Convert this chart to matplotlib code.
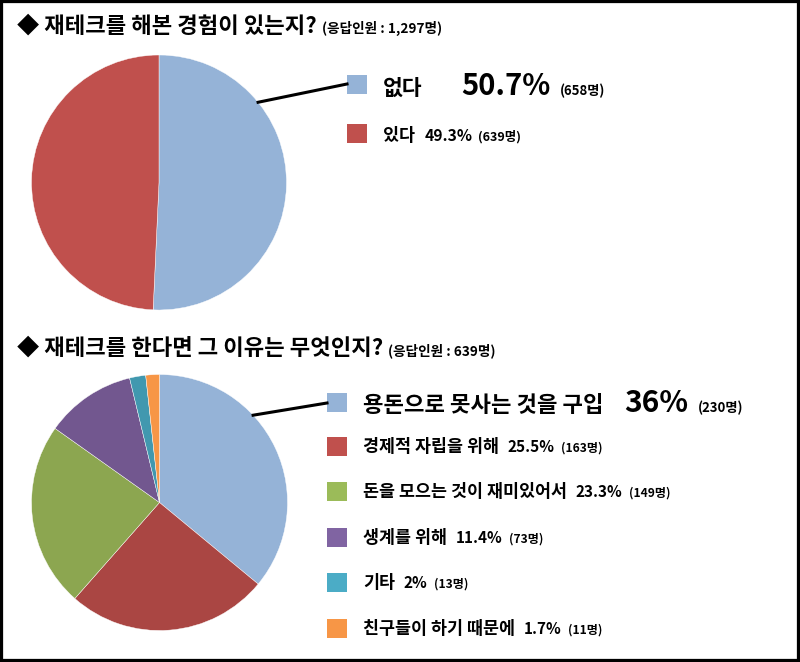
import matplotlib
matplotlib.use("Agg")
import matplotlib.pyplot as plt
from matplotlib.lines import Line2D
from matplotlib.patches import Rectangle
import numpy as np

plt.rcParams['font.family'] = ['Noto Sans CJK KR', 'DejaVu Sans']

# ---- data ----
q1_title = "◆ 재테크를 해본 경험이 있는지?"
q1_total = "(응답인원 : 1,297명)"
q1_labels = ["없다", "있다"]
q1_pct = [50.7, 49.3]
q1_counts = [658, 639]

q2_title = "◆ 재테크를 한다면 그 이유는 무엇인지?"
q2_total = "(응답인원 : 639명)"
q2_labels = ["용돈으로 못사는 것을 구입", "경제적 자립을 위해", "돈을 모으는 것이 재미있어서",
             "생계를 위해", "기타", "친구들이 하기 때문에"]
q2_pct = [36, 25.5, 23.3, 11.4, 2, 1.7]
q2_counts = [230, 163, 149, 73, 13, 11]

pie1_colors = ["#95B3D7", "#C0504D"]
pie2_colors = ["#95B3D7", "#AA4643", "#8CA650", "#72578F", "#4198AF", "#F79646"]
leg1_colors = ["#95B3D7", "#C0504D"]
leg2_colors = ["#95B3D7", "#C0504D", "#9BBB59", "#8064A2", "#4BACC6", "#F79646"]

W, H = 800, 662
fig = plt.figure(figsize=(W / 100, H / 100), dpi=100)
fig.patch.set_facecolor("white")
renderer = fig.canvas.get_renderer()


def fx(x):
    return x / W


def fy(y):
    return 1 - y / H


def text_at(x, y, s, size, weight="bold", **kw):
    t = fig.text(fx(x), fy(y), s, fontsize=size, fontweight=weight,
                 va="baseline", ha="left", color="black", **kw)
    return t


def right_edge(t):
    return t.get_window_extent(renderer).x1


def pie_axes(cx, cy, r, values, colors):
    ax = fig.add_axes([fx(cx - r), fy(cy + r), 2 * r / W, 2 * r / H])
    ax.pie(values, colors=colors, startangle=90, counterclock=False,
           wedgeprops=dict(edgecolor="white", linewidth=0.3))
    ax.set_xlim(-1, 1)
    ax.set_ylim(-1, 1)
    ax.set_aspect("equal")
    ax.axis("off")
    return ax


def connector(cx, cy, r, ang_deg, x2, y2):
    a = np.deg2rad(ang_deg)
    x1 = cx + r * np.cos(a)
    y1 = cy - r * np.sin(a)
    fig.add_artist(Line2D([fx(x1), fx(x2)], [fy(y1), fy(y2)],
                          transform=fig.transFigure, color="black", lw=2.2))


def square(x, y, color, w=20, h=19):
    fig.add_artist(Rectangle((fx(x), fy(y + h)), w / W, h / H,
                             transform=fig.transFigure, facecolor=color,
                             edgecolor="none"))


# ---- titles ----
t = text_at(17, 33, q1_title, 16)
text_at(right_edge(t) + 5, 33, q1_total, 9.8)
t = text_at(17, 355, q2_title, 16)
text_at(right_edge(t) + 5, 355, q2_total, 9.8)

# ---- pie 1 ----
pie_axes(159, 182.5, 127.5, q1_counts, pie1_colors)
connector(159, 182.5, 127.5, 39, 347, 84)

# legend 1
sq_y1 = [75, 124]
base1 = [95, 141]
for i, (lab, p, c) in enumerate(zip(q1_labels, q1_pct, q1_counts)):
    square(347, sq_y1[i], leg1_colors[i])
    if i == 0:
        t = text_at(383, base1[i], lab, 15.5)
        t2 = text_at(right_edge(t) + 39, base1[i], f"{p:g}%", 21)
        text_at(right_edge(t2) + 9, base1[i], f"({c}명)", 9.5)
    else:
        t = text_at(383, base1[i], lab, 12.5)
        t2 = text_at(right_edge(t) + 10, base1[i], f"{p:g}%", 11.3)
        text_at(right_edge(t2) + 5, base1[i], f"({c}명)", 9)

# ---- pie 2 ----
pie_axes(159.5, 502.5, 128, q2_counts, pie2_colors)
connector(159.5, 502.5, 128, 43, 327, 403)

sq_y2 = [393, 437, 482, 528, 573, 619]
base2 = [412, 452, 497, 543, 588, 634]
for i, (lab, p, c) in enumerate(zip(q2_labels, q2_pct, q2_counts)):
    square(327, sq_y2[i], leg2_colors[i])
    if i == 0:
        t = text_at(363, base2[i], lab, 16)
        t2 = text_at(right_edge(t) + 21, base2[i], f"{p:g}%", 21.5)
        text_at(right_edge(t2) + 9, base2[i], f"({c}명)", 9.5)
    else:
        t = text_at(363, base2[i], lab, 12.5)
        t2 = text_at(right_edge(t) + 9, base2[i], f"{p:g}%", 11)
        text_at(right_edge(t2) + 6, base2[i], f"({c}명)", 8.7)

# ---- frame ----
fig.add_artist(Rectangle((0, 0), 1, 1, transform=fig.transFigure, fill=False,
                         edgecolor="black", linewidth=4.5))

fig.savefig("out.png", dpi=100)
